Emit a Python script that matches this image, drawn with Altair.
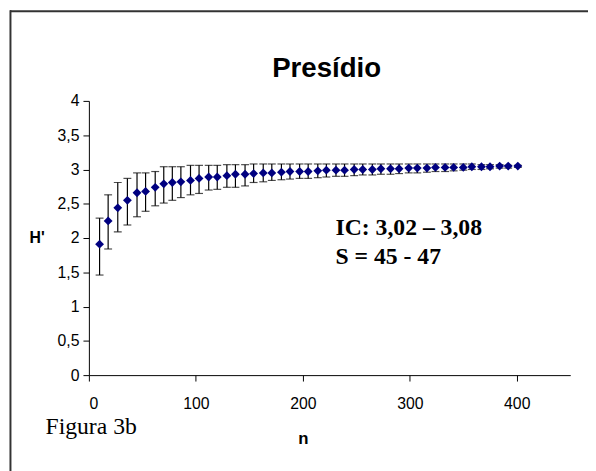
import altair as alt
import pandas as pd

# ---- data ----
n_values = [10, 18, 27, 36, 45, 53, 62, 70, 78, 86, 95, 103, 112, 120, 129, 137,
            146, 154, 163, 171, 180, 188, 197, 205, 214, 222, 231, 239, 248, 256,
            265, 273, 282, 290, 299, 307, 316, 324, 333, 341, 350, 358, 367, 375,
            384, 392, 401]
h_mean = [1.91, 2.25, 2.44, 2.55, 2.66, 2.68, 2.74, 2.79, 2.81, 2.82, 2.84, 2.87,
          2.89, 2.89, 2.91, 2.93, 2.93, 2.94, 2.95, 2.95, 2.96, 2.97, 2.97, 2.97,
          2.98, 2.99, 2.99, 2.99, 3.00, 3.00, 3.00, 3.01, 3.01, 3.01, 3.02, 3.02,
          3.02, 3.03, 3.03, 3.03, 3.03, 3.04, 3.04, 3.04, 3.05, 3.05, 3.05]
h_high = [2.29, 2.63, 2.81, 2.87, 2.95, 2.95, 2.97, 3.04, 3.04, 3.04, 3.06, 3.06,
          3.06, 3.06, 3.07, 3.07, 3.07, 3.08, 3.08, 3.08, 3.08, 3.08, 3.08, 3.08,
          3.08, 3.08, 3.08, 3.08, 3.08, 3.08, 3.08, 3.08, 3.08, 3.08, 3.08, 3.08,
          3.08, 3.08, 3.08, 3.08, 3.08, 3.08, 3.07, 3.07, 3.07, 3.06, 3.06]
h_low = [1.46, 1.84, 2.09, 2.19, 2.31, 2.39, 2.47, 2.51, 2.55, 2.59, 2.63, 2.65,
         2.70, 2.71, 2.74, 2.74, 2.76, 2.81, 2.82, 2.84, 2.85, 2.86, 2.87, 2.87,
         2.88, 2.89, 2.90, 2.90, 2.91, 2.92, 2.92, 2.93, 2.93, 2.94, 2.95, 2.95,
         2.96, 2.97, 2.97, 2.98, 2.99, 3.00, 3.00, 3.01, 3.02, 3.02, 3.03]

x_ticks = [0, 100, 200, 300, 400]
y_ticks = [0, 0.5, 1, 1.5, 2, 2.5, 3, 3.5, 4]

title_text = "Presídio"
annot_lines = ["IC: 3,02 – 3,08", "S = 45 - 47"]
figure_label = "Figura 3b"

df = pd.DataFrame({"n": n_values, "h": h_mean, "lo": h_low, "hi": h_high})

SANS = "Liberation Sans"
SERIF = "Liberation Serif"

x_scale = alt.Scale(domain=[0, 450], nice=False, zero=True)
y_scale = alt.Scale(domain=[0, 4], nice=False)

x_axis = alt.Axis(values=x_ticks, title="n", grid=False, tickSize=6,
                  labelPadding=15, labelFontSize=16, labelFont=SANS,
                  labelColor="black", domainColor="black", tickColor="black",
                  labelOverlap=False,
                  titleFont=SANS, titleFontSize=17, titleFontWeight="bold",
                  titleX=217, titleY=64, titleAnchor="middle",
                  titleBaseline="middle", titleAlign="center")
y_axis = alt.Axis(values=y_ticks, title="H'", grid=False, tickSize=6,
                  labelPadding=4, labelFontSize=16, labelFont=SANS,
                  labelColor="black", domainColor="black", tickColor="black",
                  labelOverlap=False,
                  labelExpr="replace(toString(datum.value), '.', ',')",
                  titleFont=SANS, titleFontSize=16, titleFontWeight="bold",
                  titleAngle=0, titleX=-53, titleY=139, titleAlign="center",
                  titleBaseline="middle")

def X(field):
    return alt.X(field, scale=x_scale, axis=x_axis)

def Y(field):
    return alt.Y(field, scale=y_scale, axis=y_axis)

base = alt.Chart(df)

bars = base.mark_rule(color="black", strokeWidth=1.2).encode(
    x=X("n:Q"), y=Y("lo:Q"), y2="hi:Q")
cap_hi = base.mark_tick(color="black", orient="horizontal", size=8, thickness=1.2).encode(
    x=X("n:Q"), y=Y("hi:Q"))
cap_lo = base.mark_tick(color="black", orient="horizontal", size=8, thickness=1.2).encode(
    x=X("n:Q"), y=Y("lo:Q"))
points = base.mark_point(shape="diamond", filled=True, color="#000080",
                         opacity=1, size=80).encode(
    x=X("n:Q"), y=Y("h:Q"))

def label(text, x, y, **kw):
    return alt.Chart(pd.DataFrame({"t": [text]})).mark_text(**kw).encode(
        x=alt.value(x), y=alt.value(y), text="t:N")

title = label(title_text, 241, -24, font=SANS, fontSize=28, fontWeight="bold",
              align="center", baseline="alphabetic", color="black")
ann1 = label(annot_lines[0], 250, 136, font=SERIF, fontSize=24, fontWeight="bold",
             align="left", baseline="alphabetic", color="black")
ann2 = label(annot_lines[1], 250, 165, font=SERIF, fontSize=24, fontWeight="bold",
             align="left", baseline="alphabetic", color="black")
fig = label(figure_label, -44, 338, font=SERIF, fontSize=24, fontWeight="normal",
            align="left", baseline="alphabetic", color="black")

border_top = alt.Chart(pd.DataFrame({"a": [0]})).mark_rule(
    color="#333333", strokeWidth=2).encode(
    x=alt.value(-80), x2=alt.value(510), y=alt.value(-91))
border_left = alt.Chart(pd.DataFrame({"a": [0]})).mark_rule(
    color="#333333", strokeWidth=2).encode(
    x=alt.value(-79.5), y=alt.value(-92), y2=alt.value(380))

chart = alt.layer(border_top, border_left, bars, cap_hi, cap_lo, points,
                  title, ann1, ann2, fig).properties(
    width=488, height=278,
    autosize=alt.AutoSizeParams(type="none"),
    padding={"left": 82, "top": 91, "right": 18, "bottom": 94},
    background="white",
).configure_view(strokeWidth=0)

chart.save("out.html", embed_options={"renderer": "svg", "actions": False})
